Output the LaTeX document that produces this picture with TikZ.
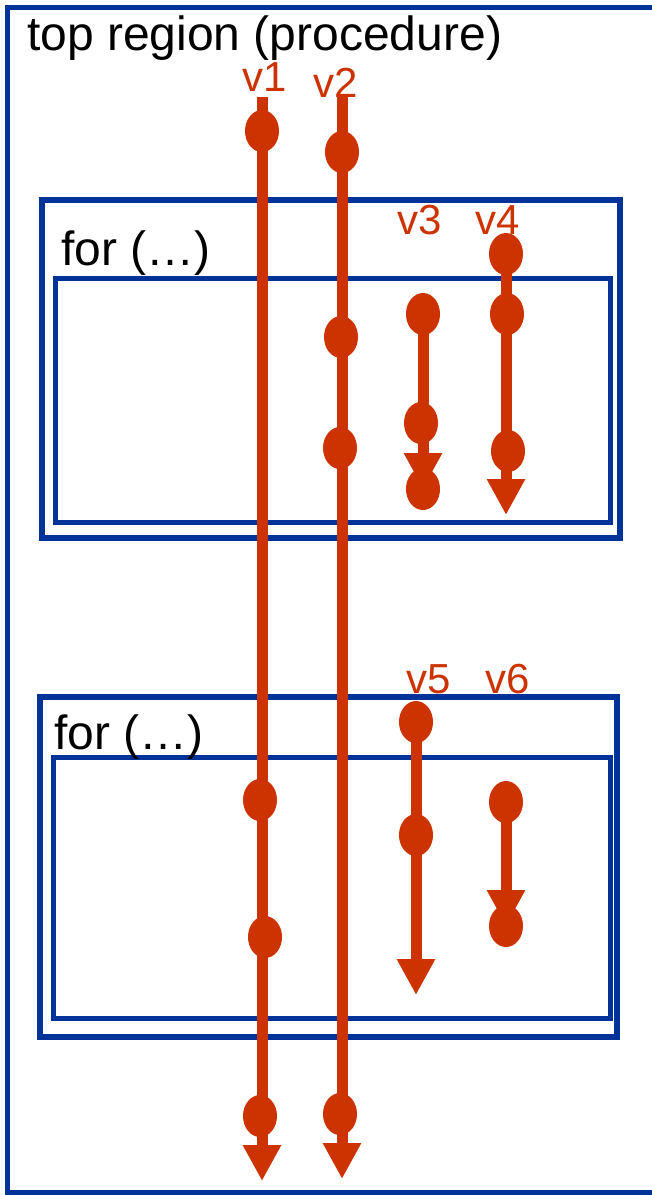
\documentclass[tikz,border=0pt]{standalone}
\usepackage{fontspec}
\setmainfont{Liberation Sans}
\usetikzlibrary{arrows.meta,shapes.geometric,backgrounds}
\definecolor{vred}{HTML}{CC3300}
\definecolor{rblue}{HTML}{003399}
\begin{document}
\begin{tikzpicture}[x=1pt,y=-1pt,
  regionbox/.style={draw=rblue,line width=5pt},
  vardot/.style={ellipse,fill=vred,minimum width=34pt,minimum height=42pt,inner sep=0pt},
  varline/.style={draw=vred,line width=11pt},
  vararrow/.style={varline,-{Triangle[width=36pt,length=36pt]}},
  boxlabel/.style={anchor=base west,inner sep=0pt,font=\fontsize{48}{48}\selectfont},
  varlabel/.style={anchor=base west,inner sep=0pt,text=vred,font=\fontsize{42}{42}\selectfont}]
\useasboundingbox (0,0) rectangle (652,1195);

% regions
\begin{scope}[on background layer]
  \draw[regionbox] (7,7) rectangle (668,1192);
  \draw[regionbox,line width=6pt] (42,200) rectangle (620,538);
  \draw[regionbox] (55,278) rectangle (610,522);
  \draw[regionbox,line width=6pt] (40,697) rectangle (617,1037);
  \draw[regionbox] (53,757) rectangle (610,1018);
\end{scope}

\node[boxlabel] (toplbl) at (27,50) {top region (procedure)};
\node[boxlabel] (for1lbl) at (61,265) {for (…)};
\node[boxlabel] (for2lbl) at (54,749) {for (…)};

% variable labels
\node[varlabel] (v1lbl) at (242,91) {v1};
\node[varlabel] (v2lbl) at (313,97) {v2};
\node[varlabel] (v3lbl) at (397,234) {v3};
\node[varlabel] (v4lbl) at (475,234) {v4};
\node[varlabel] (v5lbl) at (406,693) {v5};
\node[varlabel] (v6lbl) at (485,693) {v6};

% v1
\coordinate (v1s) at (262,97);
\coordinate (v1e) at (262,1181);
\node[vardot] (v1a) at (262,131) {};
\node[vardot] (v1b) at (260,800) {};
\node[vardot] (v1c) at (265,937) {};
\node[vardot] (v1d) at (260,1116) {};
% v2
\coordinate (v2s) at (342,97);
\coordinate (v2e) at (342,1179);
\node[vardot] (v2a) at (342,152) {};
\node[vardot] (v2b) at (341,337) {};
\node[vardot] (v2c) at (340,448) {};
\node[vardot] (v2d) at (340,1114) {};
% v3
\node[vardot] (v3a) at (423,314) {};
\node[vardot] (v3b) at (421,423) {};
\node[vardot] (v3c) at (423,489) {};
% v4
\coordinate (v4e) at (506,515);
\node[vardot] (v4a) at (506,254) {};
\node[vardot] (v4b) at (507,314) {};
\node[vardot] (v4c) at (508,451) {};
% v5
\coordinate (v5e) at (416,995);
\node[vardot] (v5a) at (416,722) {};
\node[vardot] (v5b) at (416,835) {};
% v6
\node[vardot] (v6a) at (506,802) {};
\node[vardot] (v6b) at (506,926) {};

\begin{scope}[on background layer]
  \draw[vararrow] (v1s) -- (v1e);
  \draw[vararrow] (v2s) -- (v2e);
  \draw[vararrow] (v3a.center) -- (v3c.center);
  \draw[vararrow] (v4a.center) -- (v4e);
  \draw[vararrow] (v5a.center) -- (v5e);
  \draw[vararrow] (v6a.center) -- (v6b.center);
\end{scope}
\end{tikzpicture}
\end{document}
